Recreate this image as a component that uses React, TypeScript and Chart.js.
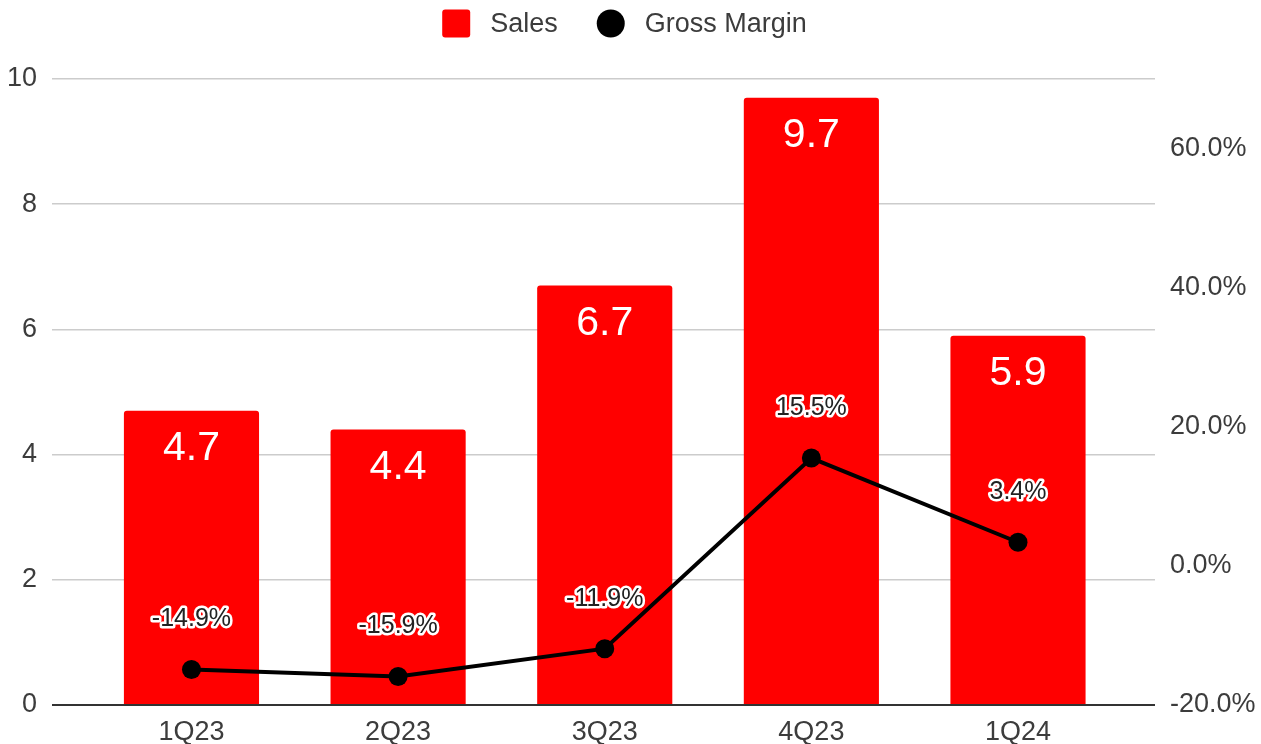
import React, { useEffect, useRef } from 'react';
import { Chart, registerables } from 'chart.js';

Chart.register(...registerables);

const categories = ['1Q23', '2Q23', '3Q23', '4Q23', '1Q24'];
const sales = [4.7, 4.4, 6.7, 9.7, 5.9];
const grossMargin = [-14.9, -15.9, -11.9, 15.5, 3.4];
const leftTicks = [0, 2, 4, 6, 8, 10];
const rightTicks = [-20, 0, 20, 40, 60];

const FONT = '"Liberation Sans", Arial, sans-serif';
const TEXT = '#3c3c3c';

export default function App() {
  const ref = useRef<HTMLCanvasElement>(null);

  useEffect(() => {
    const canvas = ref.current;
    if (!canvas) return;

    const valueLabels = {
      id: 'valueLabels',
      afterDatasetsDraw(chart: any) {
        const ctx = chart.ctx;
        ctx.save();
        const barMeta = chart.getDatasetMeta(1);
        ctx.font = `41px ${FONT}`;
        ctx.fillStyle = '#ffffff';
        ctx.textAlign = 'center';
        ctx.textBaseline = 'middle';
        barMeta.data.forEach((el: any, i: number) => {
          ctx.fillText(sales[i].toFixed(1), el.x, el.y + 38);
        });
        const lineMeta = chart.getDatasetMeta(0);
        ctx.font = `25px ${FONT}`;
        ctx.lineJoin = 'round';
        lineMeta.data.forEach((el: any, i: number) => {
          const t = grossMargin[i].toFixed(1) + '%';
          ctx.strokeStyle = '#ffffff';
          ctx.lineWidth = 5;
          ctx.strokeText(t, el.x, el.y - 50);
          ctx.fillStyle = '#222222';
          ctx.fillText(t, el.x, el.y - 50);
        });
        ctx.restore();
      },
    };

    const topLegend = {
      id: 'topLegend',
      afterDraw(chart: any) {
        const ctx = chart.ctx;
        ctx.save();
        ctx.font = `27px ${FONT}`;
        ctx.textBaseline = 'middle';
        ctx.textAlign = 'left';
        const items = [
          { text: chart.data.datasets[1].label, shape: 'rect', color: '#ff0000' },
          { text: chart.data.datasets[0].label, shape: 'circle', color: '#000000' },
        ];
        const box = 28;
        const gapText = 20;
        const gapItem = 39;
        const widths = items.map((it) => ctx.measureText(it.text).width);
        const total = widths.reduce((a, w) => a + box + gapText + w, 0) + gapItem * (items.length - 1);
        let x = 624.5 - total / 2;
        const cy = 23.5;
        items.forEach((it, i) => {
          ctx.fillStyle = it.color;
          if (it.shape === 'rect') {
            ctx.beginPath();
            (ctx as any).roundRect(x, cy - box / 2, box, box, 3);
            ctx.fill();
          } else {
            ctx.beginPath();
            ctx.arc(x + box / 2, cy, box / 2, 0, Math.PI * 2);
            ctx.fill();
          }
          ctx.fillStyle = TEXT;
          ctx.fillText(it.text, x + box + gapText, cy + 1);
          x += box + gapText + widths[i] + gapItem;
        });
        ctx.restore();
      },
    };

    const chart = new Chart(canvas, {
      data: {
        datasets: [
          {
            type: 'line',
            label: 'Gross Margin',
            data: grossMargin.map((v, i) => ({ x: i + 1, y: v })),
            yAxisID: 'y1',
            borderColor: '#000000',
            backgroundColor: '#000000',
            borderWidth: 4,
            pointRadius: 9.5,
            pointBorderWidth: 0,
            pointBackgroundColor: '#000000',
            order: 0,
          } as any,
          {
            type: 'bar',
            label: 'Sales',
            data: sales.map((v, i) => ({ x: i + 1, y: v })),
            yAxisID: 'y',
            backgroundColor: '#ff0000',
            borderRadius: 3,
            categoryPercentage: 1,
            barPercentage: 0.654,
            order: 1,
          } as any,
        ],
      },
      options: {
        responsive: false,
        animation: false,
        layout: { padding: { top: 79, left: 0, right: 0, bottom: 0 } },
        plugins: {
          legend: { display: false },
          tooltip: { enabled: false },
        },
        scales: {
          x: {
            type: 'linear',
            min: 0.325,
            max: 5.663,
            offset: false,
            grid: { display: false, drawTicks: false, offset: false },
            border: { display: false },
            afterBuildTicks: (s: any) => {
              s.ticks = categories.map((_, i) => ({ value: i + 1 }));
            },
            afterFit: (s: any) => {
              s.height = 39;
            },
            ticks: {
              autoSkip: false,
              maxRotation: 0,
              padding: 11,
              color: TEXT,
              font: { family: FONT, size: 27 },
              callback: (v: any) => categories[Math.round(Number(v)) - 1] ?? '',
            },
          },
          y: {
            type: 'linear',
            position: 'left',
            min: 0,
            max: 10,
            afterBuildTicks: (s: any) => {
              s.ticks = leftTicks.map((v) => ({ value: v }));
            },
            afterFit: (s: any) => {
              s.width = 52;
            },
            grid: {
              drawTicks: false,
              lineWidth: (c: any) => (c.tick && c.tick.value === 0 ? 2 : 1.5),
              color: (c: any) => (c.tick && c.tick.value === 0 ? '#333333' : '#cccccc'),
            },
            border: { display: false },
            ticks: {
              padding: 15,
              color: TEXT,
              font: { family: FONT, size: 27 },
              callback: (v: any) => String(v),
            },
          },
          y1: {
            type: 'linear',
            position: 'right',
            min: -20,
            max: 70,
            afterBuildTicks: (s: any) => {
              s.ticks = rightTicks.map((v) => ({ value: v }));
            },
            afterFit: (s: any) => {
              s.width = 106;
            },
            grid: { display: false, drawTicks: false },
            border: { display: false },
            ticks: {
              padding: 15,
              color: TEXT,
              font: { family: FONT, size: 27 },
              callback: (v: any) => Number(v).toFixed(1) + '%',
            },
          },
        },
      } as any,
      plugins: [valueLabels, topLegend],
    });

    return () => chart.destroy();
  }, []);

  return (
    <div style={{ position: 'fixed', left: 0, top: 0, width: 1261, height: 744, background: '#ffffff' }}>
      <canvas ref={ref} width={1261} height={744} style={{ display: 'block' }} />
    </div>
  );
}
